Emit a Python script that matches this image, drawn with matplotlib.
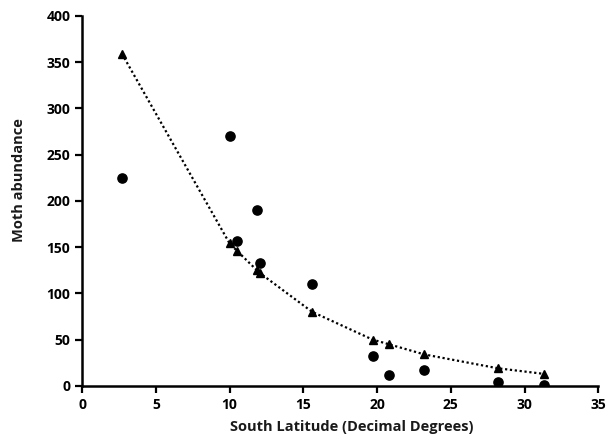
import matplotlib
matplotlib.use('Agg')
import matplotlib.pyplot as plt

# latitude (decimal degrees south) and moth counts
latitude = [2.7, 10.0, 10.5, 11.85, 12.05, 15.6, 19.7, 20.8, 23.2, 28.2, 31.3]
observed = [225, 270, 157, 190, 133, 110, 32, 12, 17, 4, 1]
predicted = [359, 154, 146, 125, 122, 80, 50, 45, 34, 19, 13]

plt.rcParams['font.family'] = ['Open Sans', 'DejaVu Sans']

fig = plt.figure(figsize=(6.08, 4.38), dpi=100)
ax = fig.add_axes([0.135, 0.119, 0.849, 0.845])

ax.plot(latitude, predicted, color='black', linestyle=(0, (1, 1.2)),
        linewidth=1.6, marker='^', markersize=6, zorder=2)
ax.scatter(latitude, observed, color='black', s=44, zorder=3)

ax.set_xlim(0, 35)
ax.set_ylim(0, 400)
ax.set_xticks(range(0, 36, 5))
ax.set_yticks(range(0, 401, 50))

for side in ['top', 'right']:
    ax.spines[side].set_visible(False)
for side in ['left', 'bottom']:
    ax.spines[side].set_linewidth(1.8)
ax.tick_params(width=1.6, length=5, labelsize=10)
for lbl in ax.get_xticklabels() + ax.get_yticklabels():
    lbl.set_fontweight('bold')

ax.set_xlabel('South Latitude (Decimal Degrees)', fontsize=10.5,
              fontweight='bold', color='#1a1a1a')
ax.set_ylabel('Moth abundance', fontsize=10.5, fontweight='bold',
              color='#1a1a1a')
ax.xaxis.set_label_coords(0.523, -0.093)
ax.yaxis.set_label_coords(-0.108, 0.557)

fig.savefig('out.png', dpi=100)
